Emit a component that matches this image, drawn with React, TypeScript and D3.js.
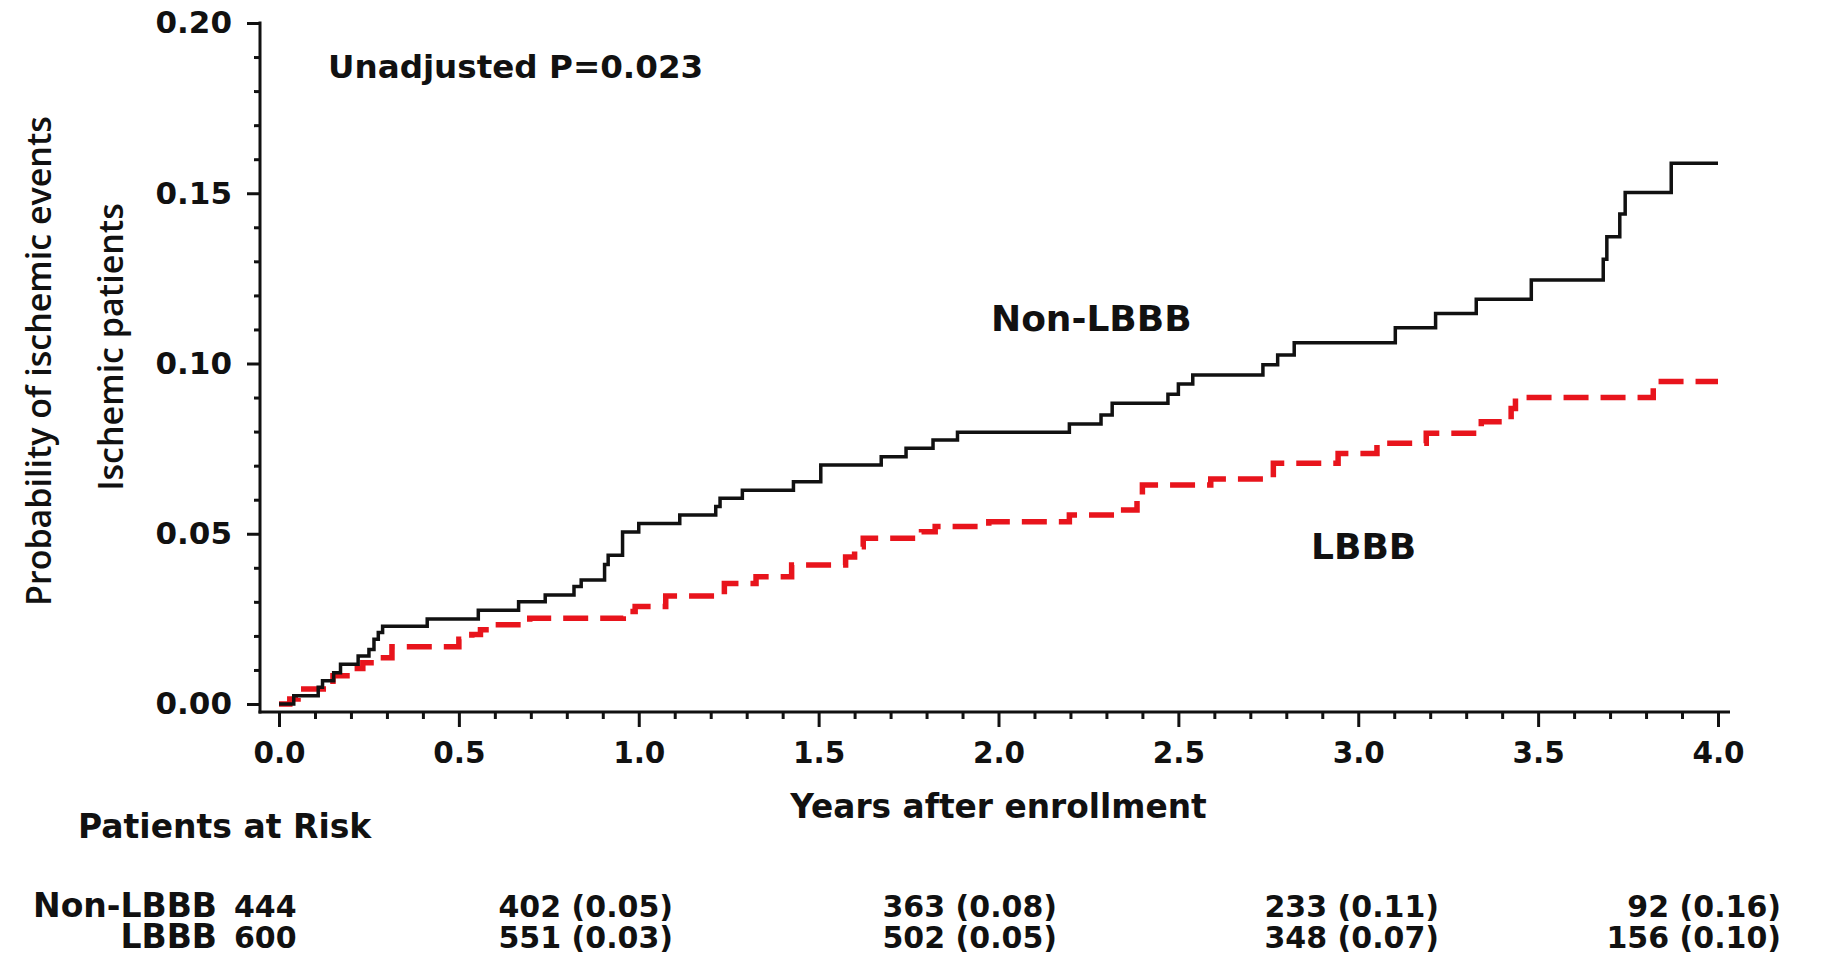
import React, { useRef, useEffect } from "react";
import * as d3 from "d3";

// Kaplan-Meier style cumulative probability (step after)
const nonLbbbTimes = [
  0, 0.041, 0.109, 0.121, 0.152, 0.171, 0.22, 0.25, 0.264, 0.276, 0.288, 0.412,
  0.554, 0.666, 0.74, 0.82, 0.84, 0.905, 0.915, 0.955, 1.0, 1.114, 1.214, 1.226,
  1.288, 1.43, 1.506, 1.674, 1.743, 1.818, 1.886, 2.197, 2.285, 2.316, 2.471,
  2.5, 2.54, 2.735, 2.776, 2.822, 3.103, 3.215, 3.328, 3.481, 3.681, 3.691,
  3.727, 3.742, 3.87, 4.0,
];
const nonLbbbProb = [
  0, 0.0024, 0.0049, 0.0068, 0.0092, 0.0117, 0.0141, 0.016, 0.019, 0.021,
  0.0228, 0.025, 0.0275, 0.03, 0.032, 0.0345, 0.0364, 0.041, 0.0437, 0.0505,
  0.053, 0.0555, 0.058, 0.0604, 0.0628, 0.0653, 0.0702, 0.0726, 0.0751, 0.0775,
  0.0798, 0.0822, 0.0849, 0.0883, 0.091, 0.094, 0.0966, 0.0996, 0.1025, 0.1061,
  0.1105, 0.1147, 0.1189, 0.1245, 0.1306, 0.1372, 0.1439, 0.1502, 0.1588,
  0.1588,
];

const lbbbTimes = [
  0, 0.03, 0.053, 0.134, 0.15, 0.2, 0.233, 0.264, 0.314, 0.5, 0.536, 0.56,
  0.585, 0.697, 0.957, 0.99, 1.075, 1.238, 1.326, 1.425, 1.575, 1.6, 1.624,
  1.786, 1.824, 1.973, 2.197, 2.334, 2.385, 2.4, 2.59, 2.764, 2.944, 3.052,
  3.189, 3.342, 3.425, 3.437, 3.82, 4.0,
];
const lbbbProb = [
  0, 0.0015, 0.0044, 0.0053, 0.0083, 0.0104, 0.0121, 0.0136, 0.0168, 0.019,
  0.0204, 0.0218, 0.0233, 0.0252, 0.0272, 0.0286, 0.0317, 0.0354, 0.0374,
  0.0408, 0.0432, 0.0462, 0.0487, 0.0506, 0.0521, 0.0535, 0.0555, 0.057, 0.06,
  0.0643, 0.0661, 0.0707, 0.0736, 0.0766, 0.0795, 0.0829, 0.0868, 0.09, 0.0947,
  0.0947,
];

const yTicks = [0, 0.05, 0.1, 0.15, 0.2];
const xTicks = [0, 0.5, 1, 1.5, 2, 2.5, 3, 3.5, 4];

const riskGroups = ["Non-LBBB", "LBBB"];
const nonLbbbAtRisk = ["444", "402 (0.05)", "363 (0.08)", "233 (0.11)", "92 (0.16)"];
const lbbbAtRisk = ["600", "551 (0.03)", "502 (0.05)", "348 (0.07)", "156 (0.10)"];

const W = 1829;
const H = 955;
const FONT = "'DejaVu Sans', Verdana, sans-serif";
const LABEL_FONT = "'Open Sans', 'Noto Sans', sans-serif";
const INK = "#111";
const RED = "#e8141c";

const App = () => {
  const ref = useRef(null);

  useEffect(() => {
    const svg = d3.select(ref.current);
    svg.selectAll("*").remove();

    const x = d3.scaleLinear().domain([0, 4]).range([279, 1718]);
    const y = d3.scaleLinear().domain([0, 0.2]).range([704, 23]);
    const axisLeftX = 260;
    const axisBottomY = 712;

    // y axis
    const yMinor = d3.range(0, 0.2001, 0.01).filter((v) => Math.round(v * 100) % 5 !== 0);
    const yAx = svg.append("g").attr("transform", `translate(${axisLeftX},0)`);
    yAx
      .call(d3.axisLeft(y).tickValues(yMinor).tickSize(6).tickFormat(() => ""))
      .call((g) => g.select(".domain").remove());
    const yMaj = svg.append("g").attr("transform", `translate(${axisLeftX},0)`);
    yMaj
      .call(
        d3.axisLeft(y).tickValues(yTicks).tickSize(13).tickPadding(15).tickFormat(d3.format(".2f"))
      )
      .call((g) => g.select(".domain").remove());
    [yAx, yMaj].forEach((g) => g.selectAll("line").attr("stroke", INK).attr("stroke-width", 3));
    yMaj
      .selectAll("text")
      .attr("font-family", FONT)
      .attr("font-weight", "bold")
      .attr("font-size", 31)
      .attr("fill", INK);
    svg
      .append("line")
      .attr("x1", axisLeftX)
      .attr("x2", axisLeftX)
      .attr("y1", y(0.2) - 1.5)
      .attr("y2", axisBottomY + 1.5)
      .attr("stroke", INK)
      .attr("stroke-width", 3);

    // x axis
    const xMinor = d3.range(0, 4.001, 0.1).filter((v) => Math.round(v * 10) % 5 !== 0);
    const xAx = svg.append("g").attr("transform", `translate(0,${axisBottomY})`);
    xAx
      .call(d3.axisBottom(x).tickValues(xMinor).tickSize(7).tickFormat(() => ""))
      .call((g) => g.select(".domain").remove());
    const xMaj = svg.append("g").attr("transform", `translate(0,${axisBottomY})`);
    xMaj
      .call(
        d3.axisBottom(x).tickValues(xTicks).tickSize(15).tickPadding(15).tickFormat(d3.format(".1f"))
      )
      .call((g) => g.select(".domain").remove());
    [xAx, xMaj].forEach((g) => g.selectAll("line").attr("stroke", INK).attr("stroke-width", 3));
    xMaj
      .selectAll("text")
      .attr("font-family", FONT)
      .attr("font-weight", "bold")
      .attr("font-size", 29.5)
      .attr("fill", INK);
    svg
      .append("line")
      .attr("x1", axisLeftX - 1.5)
      .attr("x2", 1730)
      .attr("y1", axisBottomY)
      .attr("y2", axisBottomY)
      .attr("stroke", INK)
      .attr("stroke-width", 3);

    // curves
    const line = d3
      .line()
      .x((d) => x(d[0]))
      .y((d) => y(d[1]))
      .curve(d3.curveStepAfter);

    svg
      .append("path")
      .attr("d", line(lbbbTimes.map((t, i) => [t, lbbbProb[i]])))
      .attr("fill", "none")
      .attr("stroke", RED)
      .attr("stroke-width", 5.5)
      .attr("stroke-dasharray", "25,12");

    svg
      .append("path")
      .attr("d", line(nonLbbbTimes.map((t, i) => [t, nonLbbbProb[i]])))
      .attr("fill", "none")
      .attr("stroke", INK)
      .attr("stroke-width", 3.5);

    const addText = (txt, px, py, opts = {}) =>
      svg
        .append("text")
        .attr("x", px)
        .attr("y", py)
        .attr("font-family", opts.family || FONT)
        .attr("font-weight", opts.weight || "bold")
        .attr("font-size", opts.size || 32)
        .attr("text-anchor", opts.anchor || "start")
        .attr("fill", INK)
        .text(txt);

    addText("Unadjusted P=0.023", 328, 78, { size: 32.6 });
    addText("Non-LBBB", 991, 331, { size: 36 });
    addText("LBBB", 1311, 559, { size: 36 });
    addText("Years after enrollment", x(2), 818, { size: 32.8, anchor: "middle" });

    // y axis labels
    svg
      .append("text")
      .attr("transform", "translate(51,361) rotate(-90)")
      .attr("text-anchor", "middle")
      .attr("font-family", LABEL_FONT)
      .attr("font-weight", 600)
      .attr("font-size", 34)
      .attr("fill", INK)
      .text("Probability of ischemic events");
    svg
      .append("text")
      .attr("transform", "translate(123,347) rotate(-90)")
      .attr("text-anchor", "middle")
      .attr("font-family", LABEL_FONT)
      .attr("font-weight", 600)
      .attr("font-size", 34)
      .attr("fill", INK)
      .text("Ischemic patients");

    // patients at risk table
    addText("Patients at Risk", 78, 838, { size: 33 });
    const colRight = [null, 673, 1057, 1439, 1781];
    const rowY = [917, 948];
    [nonLbbbAtRisk, lbbbAtRisk].forEach((row, r) => {
      addText(riskGroups[r], 217, rowY[r], { size: 33, anchor: "end" });
      row.forEach((v, c) => {
        if (c === 0) addText(v, 234, rowY[r], { size: 30 });
        else addText(v, colRight[c], rowY[r], { size: 30, anchor: "end" });
      });
    });
  }, []);

  return (
    <div style={{ position: "absolute", left: 0, top: 0 }}>
      <svg ref={ref} width={W} height={H} style={{ display: "block", background: "#fff" }} />
    </div>
  );
};

export default App;
